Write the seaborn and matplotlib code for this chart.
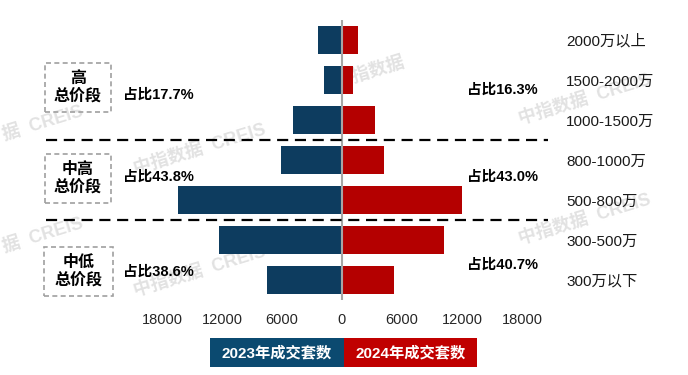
import numpy as np
import pandas as pd
import matplotlib.pyplot as plt
from matplotlib.patches import Rectangle
import seaborn as sns

sns.set_theme(style='white')
plt.rcParams['font.family'] = ['Liberation Sans', 'Noto Sans CJK SC', 'DejaVu Sans']

# Data
bands = ['2000万以上', '1500-2000万', '1000-1500万', '800-1000万', '500-800万', '300-500万', '300万以下']
sales_2023 = [2400, 1800, 4900, 6100, 16400, 12300, 7500]
sales_2024 = [1600, 1100, 3300, 4200, 12000, 10200, 5200]
years = ['2023年成交套数', '2024年成交套数']
groups = ['高\n总价段', '中高\n总价段', '中低\n总价段']
share_2023 = ['占比17.7%', '占比43.8%', '占比38.6%']
share_2024 = ['占比16.3%', '占比43.0%', '占比40.7%']
ticks = [-18000, -12000, -6000, 0, 6000, 12000, 18000]

blue, red = '#0d3c5f', '#b40000'

df = pd.DataFrame({
    'band': bands * 2,
    'value': [-v for v in sales_2023] + sales_2024,
    'year': [years[0]] * len(bands) + [years[1]] * len(bands),
})

W, H = 688, 375
fig = plt.figure(figsize=(W / 100, H / 100), dpi=100)
fig.patch.set_facecolor('white')


def fp(x, y):
    return x / W, 1 - y / H


ax = fig.add_axes([46 / W, 1 - 300 / H, 502 / W, 280 / H])
ax.patch.set_alpha(0)

sns.barplot(data=df, y='band', x='value', hue='year', order=bands, hue_order=years,
            palette=[blue, red], dodge=False, width=0.72, saturation=1,
            linewidth=0, legend=False, ax=ax)

ax.set_xlim(-29600, 20600)
ax.set_ylim(6.5, -0.5)
ax.axvline(0, color='#a6a6a6', lw=1.5, zorder=3)
for yy in [2.5, 4.5]:
    ax.axhline(yy, color='black', lw=1.6, ls=(0, (5, 3)), zorder=3)

ax.set_xticks(ticks)
ax.set_xticklabels([f'{abs(t)}' for t in ticks], fontsize=10.5, color='#262626')
ax.yaxis.tick_right()
ax.set_yticks(range(len(bands)))
ax.set_yticklabels(bands, fontsize=11, color='#1a1a1a')
ax.tick_params(axis='both', length=0)
ax.tick_params(axis='x', pad=9)
ax.tick_params(axis='y', pad=13)
ax.set_xlabel('')
ax.set_ylabel('')
sns.despine(ax=ax, left=True, bottom=True)

# watermarks (the two at the left edge are only partly visible in the original)
wm = dict(fontsize=13, fontweight='bold', color='#e2e2e2', rotation=17, va='center', zorder=-1)
fig.text(*fp(1, 124), '据  CREIS', ha='left', **wm)
fig.text(*fp(1, 236), '据  CREIS', ha='left', **wm)
for (x, y, s) in [(200, 150, '中指数据  CREIS'), (370, 72, '中指数据'),
                  (585, 100, '中指数据  CREIS'), (200, 272, '中指数据  CREIS'),
                  (585, 220, '中指数据  CREIS')]:
    fig.text(*fp(x, y), s, ha='center', **wm)

# group boxes
boxes = [(45, 63, 66, 49), (45, 154, 66, 49), (44, 247, 69, 49)]
for (x, y, w, h), g in zip(boxes, groups):
    x0, y0 = fp(x, y + h)
    fig.add_artist(Rectangle((x0, y0), w / W, h / H, transform=fig.transFigure,
                             fill=False, ec='#a0a0a0', lw=1.2, ls=(0, (3, 2))))
    fig.text(*fp(x + w / 2, y + h / 2), g, ha='center', va='center', fontsize=11.5,
             fontweight='bold', color='black', linespacing=1.2)

for y, s in zip([95, 177, 272], share_2023):
    fig.text(*fp(123, y), s, ha='left', va='center', fontsize=10.5, fontweight='bold', color='black')
for y, s in zip([90, 177, 265], share_2024):
    fig.text(*fp(467, y), s, ha='left', va='center', fontsize=10.5, fontweight='bold', color='black')

# legend boxes
for (x, w, c), label in zip([(210, 134, '#0b4a70'), (344, 133, '#c00000')], years):
    x0, y0 = fp(x, 367)
    fig.add_artist(Rectangle((x0, y0), w / W, 29 / H, transform=fig.transFigure,
                             fc=c, ec='none'))
    fig.text(*fp(x + w / 2, 352.5), label, ha='center', va='center', fontsize=11,
             fontweight='bold', color='white')

fig.savefig('out.png', dpi=100)
